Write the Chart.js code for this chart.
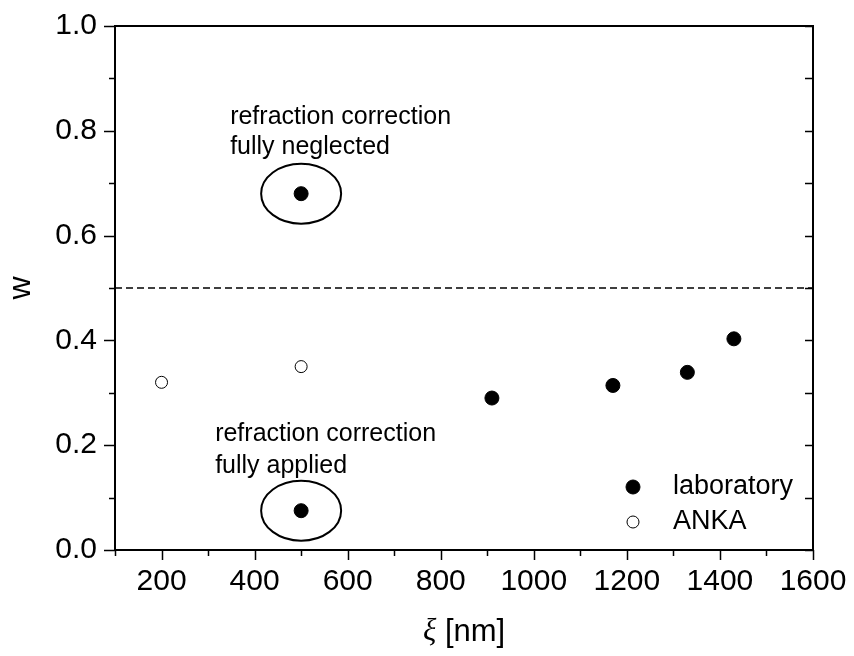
<!DOCTYPE html>
<html lang="en">
<head>
<meta charset="UTF-8">
<title>w versus xi</title>
<script src="https://cdn.jsdelivr.net/npm/chart.js"></script>
<style>
  html, body { margin: 0; padding: 0; background: #fff; }
  #wrap { width: 854px; height: 656px; }
</style>
</head>
<body>
<div id="wrap"><canvas id="chart" width="854" height="656"></canvas></div>
<script>
// laboratory measurements
const labX = [910, 1170, 1330, 1430];
const labW = [0.29, 0.314, 0.339, 0.403];
// ANKA measurements
const ankaX = [200, 500];
const ankaW = [0.32, 0.35];
// the two encircled 500 nm results
const limitX = [500, 500];
const limitW = [0.68, 0.075];
const limitText = [
  ['refraction correction', 'fully neglected'],
  ['refraction correction', 'fully applied']
];
// dashed reference level
const refX = [100, 1600];
const refW = [0.5, 0.5];
// axes
const xTicks = [200, 400, 600, 800, 1000, 1200, 1400, 1600];
const yTicks = [0.0, 0.2, 0.4, 0.6, 0.8, 1.0];

const SANS = '"Liberation Sans", Arial, sans-serif';
const toPts = (xs, ys) => xs.map((x, i) => ({ x: x, y: ys[i] }));

// frame, ticks, ellipses, notes, legend and x title
const decorations = {
  id: 'decorations',
  afterDatasetsDraw(chart) {
    const ctx = chart.ctx;
    const a = chart.chartArea;
    const xs = chart.scales.x, ys = chart.scales.y;
    ctx.save();
    ctx.strokeStyle = '#000';
    ctx.lineWidth = 2;
    ctx.strokeRect(a.left, a.top, a.right - a.left, a.bottom - a.top);

    ctx.lineWidth = 1.5;
    ctx.beginPath();
    for (let v = 100; v <= 1600; v += 100) {
      const px = Math.round(xs.getPixelForValue(v)) + 0.5;
      const len = v % 200 === 0 ? 10 : 6;
      ctx.moveTo(px, a.bottom);
      ctx.lineTo(px, a.bottom + len);
    }
    for (let i = 0; i <= 10; i++) {
      const py = Math.round(ys.getPixelForValue(i / 10)) + 0.5;
      const len = i % 2 === 0 ? 11 : 6;
      ctx.moveTo(a.left, py);
      ctx.lineTo(a.left - len, py);
      ctx.moveTo(a.right, py);
      ctx.lineTo(a.right - 8, py);
    }
    ctx.stroke();

    // ellipses and notes round the 500 nm points
    const offs = [{ dx: -71, dy: [-77, -47] }, { dx: -86, dy: [-77, -45] }];
    const meta = chart.getDatasetMeta(3);
    ctx.lineWidth = 2;
    ctx.font = '25px ' + SANS;
    ctx.fillStyle = '#000';
    ctx.textBaseline = 'middle';
    ctx.textAlign = 'left';
    meta.data.forEach((pt, i) => {
      ctx.beginPath();
      ctx.ellipse(pt.x, pt.y, 40, 30, 0, 0, Math.PI * 2);
      ctx.stroke();
      limitText[i].forEach((line, j) => {
        ctx.fillText(line, pt.x + offs[i].dx, pt.y + offs[i].dy[j]);
      });
    });

    // legend
    const legend = [
      { ds: chart.data.datasets[1], y: a.bottom - 63 },
      { ds: chart.data.datasets[2], y: a.bottom - 28 }
    ];
    ctx.font = '27px ' + SANS;
    legend.forEach(item => {
      ctx.beginPath();
      ctx.arc(a.right - 180, item.y, item.ds.pointRadius, 0, Math.PI * 2);
      ctx.fillStyle = item.ds.pointBackgroundColor;
      ctx.fill();
      ctx.lineWidth = item.ds.pointBorderWidth;
      ctx.strokeStyle = '#000';
      ctx.stroke();
      ctx.fillStyle = '#000';
      ctx.fillText(item.ds.label, a.right - 140, item.y);
    });

    // x axis title: italic xi then [nm]
    const tx = 423, ty = 632;
    ctx.font = 'italic 31px "Liberation Serif", serif';
    ctx.fillText('\u03BE', tx, ty);
    const w = ctx.measureText('\u03BE').width;
    ctx.font = '31px ' + SANS;
    ctx.fillText(' [nm]', tx + w, ty);
    ctx.restore();
  }
};

new Chart(document.getElementById('chart'), {
  type: 'scatter',
  data: {
    datasets: [
      {
        label: 'w = 0.5',
        data: toPts(refX, refW),
        showLine: true,
        borderColor: '#000',
        borderWidth: 1.5,
        borderDash: [7, 4],
        pointRadius: 0
      },
      {
        label: 'laboratory',
        data: toPts(labX, labW),
        pointRadius: 7,
        pointBackgroundColor: '#000',
        pointBorderColor: '#000',
        pointBorderWidth: 1
      },
      {
        label: 'ANKA',
        data: toPts(ankaX, ankaW),
        pointRadius: 6,
        pointBackgroundColor: '#fff',
        pointBorderColor: '#000',
        pointBorderWidth: 1
      },
      {
        label: 'laboratory (500 nm)',
        data: toPts(limitX, limitW),
        pointRadius: 7,
        pointBackgroundColor: '#000',
        pointBorderColor: '#000',
        pointBorderWidth: 1
      }
    ]
  },
  options: {
    responsive: false,
    animation: false,
    devicePixelRatio: 1,
    layout: { padding: { top: 26, right: 41, left: 0, bottom: 0 } },
    plugins: { legend: { display: false }, tooltip: { enabled: false } },
    scales: {
      x: {
        type: 'linear',
        min: 100,
        max: 1600,
        border: { display: false },
        grid: { display: false, drawTicks: false },
        afterBuildTicks: s => { s.ticks = xTicks.map(v => ({ value: v })); },
        afterFit: s => {
          s.height = 106;
          s.paddingLeft = 0; s.paddingRight = 0;
        },
        ticks: {
          padding: 14,
          color: '#000',
          font: { family: SANS, size: 30 },
          maxRotation: 0,
          autoSkip: false,
          callback: v => String(v)
        }
      },
      y: {
        type: 'linear',
        min: 0,
        max: 1,
        border: { display: false },
        grid: { display: false, drawTicks: false },
        afterBuildTicks: s => { s.ticks = yTicks.map(v => ({ value: v })); },
        afterFit: s => {
          s.width = 115;
          s.paddingTop = 0; s.paddingBottom = 0;
        },
        title: {
          display: true,
          text: 'w',
          color: '#000',
          font: { family: SANS, size: 32 },
          padding: { top: 2, bottom: 0 }
        },
        ticks: {
          padding: 18,
          color: '#000',
          font: { family: SANS, size: 30 },
          autoSkip: false,
          callback: v => v.toFixed(1)
        }
      }
    }
  },
  plugins: [decorations]
});
</script>
</body>
</html>
